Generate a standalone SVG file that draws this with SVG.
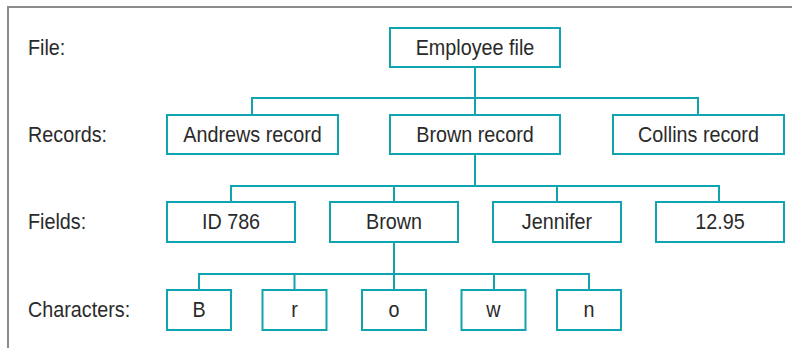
<svg xmlns="http://www.w3.org/2000/svg" width="792" height="348" viewBox="0 0 792 348">
<style>
.box{fill:#fff;stroke:#10a3b0;stroke-width:2}
.con{fill:none;stroke:#10a3b0;stroke-width:2}
.t{font-family:"Liberation Sans",Arial,sans-serif;font-size:21.5px;fill:#2a2a2a}
.c{text-anchor:middle}
</style>
<rect width="792" height="348" fill="#fff"/>
<path d="M8 348V7H792" fill="none" stroke="#8c8c8c" stroke-width="2"/>
<g id="labels">
<text class="t" transform="translate(28 54.5) scale(0.92 1)">File:</text>
<text class="t" transform="translate(28 141.5) scale(0.92 1)">Records:</text>
<text class="t" transform="translate(28 229) scale(0.92 1)">Fields:</text>
<text class="t" transform="translate(28 317) scale(0.92 1)">Characters:</text>
</g>
<g id="connectors">
<path class="con" d="M475 67V115M252 115V98H698V115"/>
<path class="con" d="M475 154V186M231 202V186H719V202M394 186V202M557 186V202"/>
<path class="con" d="M394 242V274M199 290V274H589V290M294.5 274V290M394 274V290M494 274V290"/>
</g>
<g id="employee-file"><rect class="box" x="390" y="28" width="170" height="39"/><text class="t c" transform="translate(475 54.5) scale(0.92 1)">Employee file</text></g>
<g id="andrews-record"><rect class="box" x="167" y="115" width="171" height="39"/><text class="t c" transform="translate(252.5 141.5) scale(0.92 1)">Andrews record</text></g>
<g id="brown-record"><rect class="box" x="390" y="115" width="170" height="39"/><text class="t c" transform="translate(475 141.5) scale(0.92 1)">Brown record</text></g>
<g id="collins-record"><rect class="box" x="613" y="115" width="171" height="39"/><text class="t c" transform="translate(698.5 141.5) scale(0.92 1)">Collins record</text></g>
<g id="field-id"><rect class="box" x="167" y="202" width="128" height="40"/><text class="t c" transform="translate(231 229) scale(0.92 1)">ID 786</text></g>
<g id="field-brown"><rect class="box" x="330" y="202" width="128" height="40"/><text class="t c" transform="translate(394 229) scale(0.92 1)">Brown</text></g>
<g id="field-jennifer"><rect class="box" x="493" y="202" width="128" height="40"/><text class="t c" transform="translate(557 229) scale(0.92 1)">Jennifer</text></g>
<g id="field-rate"><rect class="box" x="656" y="202" width="128" height="40"/><text class="t c" transform="translate(720 229) scale(0.92 1)">12.95</text></g>
<g id="char-B"><rect class="box" x="167" y="290" width="64" height="40"/><text class="t c" transform="translate(199 317) scale(0.92 1)">B</text></g>
<g id="char-r"><rect class="box" x="262.5" y="290" width="64" height="40"/><text class="t c" transform="translate(294.5 317) scale(0.92 1)">r</text></g>
<g id="char-o"><rect class="box" x="362" y="290" width="64" height="40"/><text class="t c" transform="translate(394 317) scale(0.92 1)">o</text></g>
<g id="char-w"><rect class="box" x="461.5" y="290" width="64" height="40"/><text class="t c" transform="translate(493.5 317) scale(0.92 1)">w</text></g>
<g id="char-n"><rect class="box" x="557" y="290" width="64" height="40"/><text class="t c" transform="translate(589 317) scale(0.92 1)">n</text></g>
</svg>
